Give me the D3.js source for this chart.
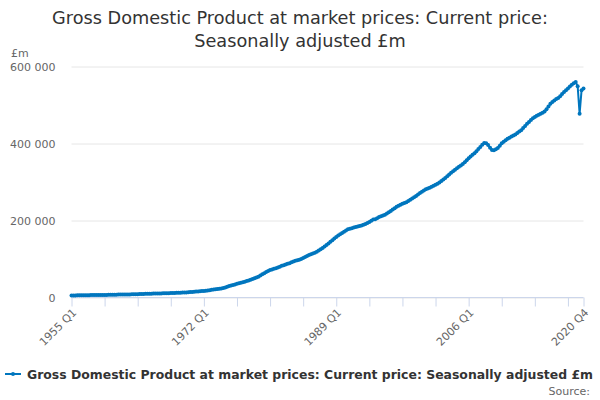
<!DOCTYPE html>
<html>
<head>
<meta charset="utf-8">
<script src="https://cdn.jsdelivr.net/npm/d3@7"></script>
<style>
  html, body { margin: 0; padding: 0; background: #fff; }
  svg { display: block; font-family: "DejaVu Sans", Verdana, sans-serif; }
</style>
</head>
<body>
<svg id="chart" width="600" height="400"></svg>
<script>
// ---- Data ----
const titleLines = ["Gross Domestic Product at market prices: Current price:", "Seasonally adjusted £m"];
const seriesName = "Gross Domestic Product at market prices: Current price: Seasonally adjusted £m";
const unitLabel = "£m";
const sourceText = "Source:";
const firstYear = 1955;
const lastYear = 2020;
const quarters = ["Q1", "Q2", "Q3", "Q4"];
// quarterly GDP, £m, 1955 Q1 .. 2020 Q4 (one row per year)
const gdp = [
  5300, 5400, 5500, 5600,       // 1955
  5700, 5800, 5850, 5950,       // 1956
  6000, 6100, 6200, 6250,       // 1957
  6300, 6350, 6400, 6500,       // 1958
  6600, 6700, 6800, 6950,       // 1959
  7100, 7200, 7300, 7400,       // 1960
  7550, 7700, 7800, 7850,       // 1961
  7950, 8050, 8100, 8200,       // 1962
  8300, 8500, 8700, 8900,       // 1963
  9100, 9250, 9450, 9600,       // 1964
  9800, 9950, 10100, 10250,     // 1965
  10400, 10550, 10650, 10800,   // 1966
  10950, 11100, 11250, 11450,   // 1967
  11700, 11900, 12100, 12350,   // 1968
  12500, 12750, 12950, 13250,   // 1969
  13600, 14000, 14450, 14850,   // 1970
  15300, 15800, 16300, 16800,   // 1971
  17200, 17650, 18200, 19000,   // 1972
  19900, 20600, 21300, 21900,   // 1973
  22500, 23600, 24900, 26200,   // 1974
  28000, 29700, 31100, 32500,   // 1975
  34000, 35400, 36800, 38300,   // 1976
  39700, 41100, 42700, 44400,   // 1977
  46200, 48200, 50100, 52100,   // 1978
  54000, 57300, 60100, 62900,   // 1979
  66200, 68800, 71200, 73000,   // 1980
  74400, 75900, 78000, 80100,   // 1981
  82200, 83600, 85600, 87700,   // 1982
  89200, 91300, 93400, 95300,   // 1983
  96800, 98200, 100300, 102800, // 1984
  105400, 108000, 110400, 112500, // 1985
  114600, 116400, 119000, 122400, // 1986
  125600, 128800, 132500, 136200, // 1987
  140400, 144600, 149000, 153300, // 1988
  157200, 160800, 164300, 167400, // 1989
  170500, 174300, 177400, 178700, // 1990
  180100, 181500, 182900, 184300, // 1991
  185600, 187300, 189000, 190800, // 1992
  193500, 196400, 199300, 202300, // 1993
  203500, 206100, 208900, 211200, // 1994
  213000, 215000, 217900, 221300, // 1995
  224800, 228400, 232000, 235400, // 1996
  238600, 241000, 243500, 245700, // 1997
  247200, 250400, 253600, 257100, // 1998
  260300, 263900, 267600, 271400, // 1999
  274500, 278000, 280900, 283300, // 2000
  285000, 287500, 290200, 292600, // 2001
  295500, 298900, 302400, 306300, // 2002
  310400, 314700, 319600, 324300, // 2003
  328000, 332100, 335900, 339700, // 2004
  343000, 347000, 351500, 356500, // 2005
  361500, 366000, 370500, 375000, // 2006
  380000, 385500, 391000, 397000, // 2007
  401500, 400500, 396000, 389000, // 2008
  383000, 382500, 385000, 388500, // 2009
  394000, 400500, 404500, 408500, // 2010
  412500, 415000, 418500, 421000, // 2011
  423500, 427000, 431000, 434500, // 2012
  440000, 445500, 451000, 456000, // 2013
  461000, 465500, 469000, 472000, // 2014
  474500, 477500, 480000, 483000, // 2015
  489000, 496000, 503000, 508000, // 2016
  512000, 515500, 518500, 523000, // 2017
  528500, 533500, 538500, 543000, // 2018
  548000, 552500, 556500, 559500, // 2019
  549000, 477000, 538000, 543000  // 2020
];
const yTicks = [0, 200000, 400000, 600000];
const xLabelCats = ["1955 Q1", "1972 Q1", "1989 Q1", "2006 Q1", "2020 Q4"];
const xTickStep = 17;

// ---- Build categories ----
const categories = [];
for (let y = firstYear; y <= lastYear; y++) quarters.forEach(q => categories.push(y + " " + q));
const data = categories.map((c, i) => ({ cat: c, value: gdp[i] }));

// ---- Layout ----
const svg = d3.select("#chart");
const W = 600, H = 400;
const plot = { left: 71.5, right: 583.5, top: 66.5, bottom: 297.5 };
const color = "#0076be";

const x = d3.scalePoint().domain(categories).range([plot.left, plot.right]);
const y = d3.scaleLinear().domain([0, 600000]).range([plot.bottom, plot.top]);

const locale = d3.formatLocale({ decimal: ".", thousands: " ", grouping: [3], currency: ["£", ""] });
const fmt = locale.format(",");

// Title
const title = svg.append("text").attr("text-anchor", "middle").attr("fill", "#333333")
  .style("font-size", "17.7px");
titleLines.forEach((t, i) => {
  title.append("tspan").attr("x", W / 2).attr("y", 24 + i * 23).text(t);
});

// Gridlines + y labels
const yAxis = d3.axisLeft(y).tickValues(yTicks).tickSize(-(plot.right - plot.left)).tickFormat(fmt).tickPadding(16);
const gy = svg.append("g").attr("transform", `translate(${plot.left},0)`).call(yAxis);
gy.select(".domain").remove();
gy.selectAll(".tick line").attr("stroke", "#e6e6e6").attr("stroke-width", 1);
gy.selectAll(".tick text").attr("fill", "#666666").style("font-size", "11px")
  .style("font-family", "DejaVu Sans, sans-serif");

// unit label
svg.append("text").attr("x", 11).attr("y", 57).attr("fill", "#666666")
  .style("font-size", "11px").text(unitLabel);

// x axis
const tickCats = categories.filter((c, i) => i % xTickStep === 0 || i === categories.length - 1);
const xAxis = d3.axisBottom(x).tickValues(tickCats).tickSize(9).tickFormat(() => "");
const gx = svg.append("g").attr("transform", `translate(0,${plot.bottom})`).call(xAxis);
gx.select(".domain").attr("stroke", "#ccd6eb").attr("d", `M${plot.left},0H${plot.right}`);
gx.selectAll(".tick line").attr("stroke", "#ccd6eb");

// rotated labels
svg.append("g").selectAll("text").data(xLabelCats).join("text")
  .attr("transform", d => `translate(${x(d) + 3},${plot.bottom + 13}) rotate(-45)`)
  .attr("text-anchor", "end")
  .attr("dy", "0.35em")
  .attr("fill", "#666666")
  .style("font-size", "11px")
  .text(d => d);

// line
const line = d3.line().x(d => x(d.cat)).y(d => y(d.value));
svg.append("path").datum(data).attr("d", line).attr("fill", "none")
  .attr("stroke", color).attr("stroke-width", 2).attr("stroke-linejoin", "round");
svg.append("g").selectAll("circle").data(data).join("circle")
  .attr("cx", d => x(d.cat)).attr("cy", d => y(d.value)).attr("r", 2).attr("fill", color);

// legend
const lg = svg.append("g");
lg.append("line").attr("x1", 5).attr("x2", 21).attr("y1", 374).attr("y2", 374)
  .attr("stroke", color).attr("stroke-width", 2);
lg.append("circle").attr("cx", 13).attr("cy", 374).attr("r", 2).attr("fill", color);
lg.append("text").attr("x", 27).attr("y", 379).attr("fill", "#333333")
  .attr("textLength", 566).attr("lengthAdjust", "spacingAndGlyphs")
  .style("font-size", "12.6px").style("font-weight", "bold").text(seriesName);

// source
svg.append("text").attr("x", 590).attr("y", 395).attr("text-anchor", "end")
  .attr("fill", "#666666").style("font-size", "11px").text(sourceText);
</script>
</body>
</html>
